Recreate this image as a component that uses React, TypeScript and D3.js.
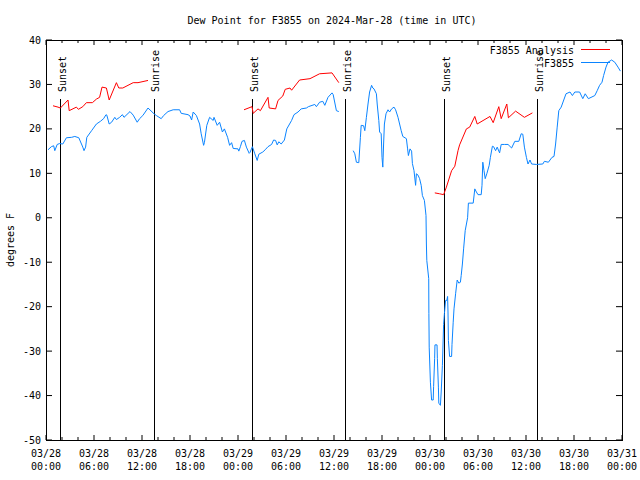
import React from "react";
import * as d3 from "d3";

const TITLE = "Dew Point for F3855 on 2024-Mar-28 (time in UTC)";
const Y_LABEL = "degrees F";
const Y_TICKS = [-50, -40, -30, -20, -10, 0, 10, 20, 30, 40];
const X_TICK_HOURS = [0, 6, 12, 18, 24, 30, 36, 42, 48, 54, 60, 66, 72];
const X_TICK_LABELS = [
  ["03/28", "00:00"], ["03/28", "06:00"], ["03/28", "12:00"], ["03/28", "18:00"],
  ["03/29", "00:00"], ["03/29", "06:00"], ["03/29", "12:00"], ["03/29", "18:00"],
  ["03/30", "00:00"], ["03/30", "06:00"], ["03/30", "12:00"], ["03/30", "18:00"],
  ["03/31", "00:00"],
];
const SUN_EVENTS: [number, string][] = [
  [1.75, "Sunset"], [13.45, "Sunrise"], [25.75, "Sunset"],
  [37.38, "Sunrise"], [49.75, "Sunset"], [61.38, "Sunrise"],
];

// hours since 03/28 00:00 UTC, value in deg F
const analysisSeg1: [number, number][] = [
  [0.875, 25.2], [1.5, 24.9], [1.8, 24.7], [2.75, 26.5], [2.9, 24.1], [3.8, 24.9], [4.05, 24.4],
  [4.6, 25.0], [5.05, 25.9], [5.8, 25.9], [6.3, 26.7], [6.7, 27.1], [7.0, 29.4], [7.55, 29.2],
  [7.9, 26.5], [8.8, 30.4], [9.1, 29.2], [9.6, 29.2], [10.9, 30.4], [11.5, 30.4], [12.75, 30.9],
];
const analysisSeg2: [number, number][] = [
  [24.75, 24.3], [25.75, 25.0], [25.9, 23.5], [26.5, 24.5], [26.8, 24.1], [27.75, 27.1], [27.9, 24.7],
  [28.7, 24.5], [29.0, 26.4], [29.6, 27.4], [29.9, 28.9], [30.5, 29.2], [30.7, 28.7], [31.7, 31.0],
  [33.0, 31.3], [34.2, 32.4], [35.75, 32.6], [36.6, 30.4],
];
const analysisSeg3: [number, number][] = [
  [48.6, 5.6], [49.2, 5.4], [49.7, 5.2], [50.05, 6.9], [50.7, 10.6], [51.1, 11.6], [51.5, 15.1],
  [51.7, 16.4], [52.55, 20.0], [52.96, 20.4], [53.6, 22.8], [53.9, 21.1], [55.5, 22.8], [55.9, 21.4],
  [56.6, 25.0], [56.9, 22.3], [57.6, 25.6], [57.8, 22.5], [58.7, 24.0], [59.8, 22.6], [60.8, 23.6],
];

const obsSeg1: [number, number][] = [
  [0.25, 15.3], [0.67, 16.0], [0.96, 16.2], [1.1, 15.1], [1.4, 16.5], [1.7, 16.7], [2.1, 16.6],
  [2.55, 18.0], [3.2, 18.1], [3.6, 18.3], [4.1, 18.0], [4.6, 15.9], [4.75, 15.1], [4.95, 15.9],
  [5.1, 18.1], [5.7, 19.6], [6.3, 21.1], [6.8, 21.7], [7.2, 22.3], [7.5, 23.2], [7.6, 23.1],
  [7.9, 21.1], [8.2, 21.5], [8.6, 22.6], [8.8, 22.1], [9.2, 22.6], [9.55, 23.2], [9.75, 22.6],
  [10.5, 23.9], [10.9, 23.1], [11.4, 21.5], [11.7, 22.3], [12.1, 23.0], [12.75, 24.7], [13.5, 23.4],
  [13.8, 23.0], [14.4, 22.3], [14.7, 23.0], [15.25, 23.9], [15.9, 24.3], [16.7, 24.3], [16.9, 23.5],
  [17.75, 23.2], [18.0, 22.9], [18.2, 22.0], [18.4, 23.8], [18.8, 23.0], [19.2, 21.1], [19.4, 18.9],
  [19.7, 16.3], [19.8, 16.9], [20.1, 20.8], [20.45, 22.6], [20.9, 21.9], [21.0, 22.6], [21.4, 20.8],
  [21.7, 21.5], [22.05, 19.3], [22.3, 20.0], [22.7, 18.1], [22.95, 16.3], [23.2, 16.9], [23.4, 15.6],
  [24.0, 15.5], [24.1, 15.0], [24.3, 16.0], [24.5, 17.2], [24.8, 17.4], [25.05, 15.9], [25.4, 14.5],
  [25.5, 14.7], [25.8, 16.0], [26.1, 14.4], [26.4, 12.9], [26.6, 14.3], [27.1, 14.8], [27.4, 15.3],
  [27.75, 16.0], [28.2, 16.5], [28.45, 17.5], [28.7, 17.4], [28.9, 16.4], [29.1, 17.1], [29.4, 16.6],
  [29.8, 17.5], [30.1, 20.0], [30.7, 21.9], [31.0, 23.2], [31.5, 23.8], [31.9, 24.5], [32.55, 24.7],
  [32.8, 25.0], [33.6, 25.5], [33.8, 25.0], [34.2, 26.0], [34.6, 26.2], [34.85, 25.3], [35.25, 27.1],
  [35.75, 28.1], [35.9, 27.7], [36.3, 24.1], [36.6, 23.9],
];
const obsSeg2: [number, number][] = [
  [38.4, 15.1], [38.6, 14.4], [38.8, 12.5], [39.1, 12.4], [39.3, 18.1], [39.4, 20.8], [39.7, 20.7],
  [39.85, 19.6], [40.05, 22.6], [40.25, 25.6], [40.45, 28.3], [40.7, 29.8], [40.85, 29.2], [41.0, 29.0],
  [41.3, 27.9], [41.4, 25.6], [41.6, 21.9], [41.7, 19.3], [41.9, 18.9], [42.0, 13.6], [42.1, 11.4],
  [42.2, 16.6], [42.3, 21.1], [42.5, 23.4], [42.75, 24.3], [42.95, 23.8], [43.2, 24.5], [43.5, 24.9],
  [43.7, 24.3], [44.0, 22.6], [44.2, 21.1], [44.4, 19.6], [44.6, 18.3], [45.05, 17.8], [45.2, 15.5],
  [45.3, 14.0], [45.5, 15.5], [45.7, 15.0], [45.8, 12.2], [46.0, 10.6], [46.2, 7.3], [46.3, 9.9],
  [46.5, 9.6], [46.7, 8.8], [46.9, 7.3], [47.05, 5.0], [47.3, 3.9], [47.5, 0.5], [47.55, -5.9],
  [47.6, -9.6], [47.84, -13.7], [47.86, -21.5], [47.9, -29.1], [48.05, -37.0], [48.2, -41.0],
  [48.4, -41.0], [48.45, -38.0], [48.58, -31.7], [48.62, -28.6], [48.88, -28.6], [48.92, -31.7],
  [49.05, -38.1], [49.1, -41.7], [49.3, -42.2], [49.4, -39.2], [49.55, -33.2], [49.7, -24.0],
  [49.8, -21.6], [49.95, -18.6], [50.1, -18.6], [50.2, -17.7], [50.25, -21.2], [50.3, -27.6],
  [50.45, -31.2], [50.7, -31.2], [50.75, -28.5], [50.9, -23.5], [51.0, -20.5], [51.2, -17.1],
  [51.4, -14.0], [51.6, -14.7], [51.8, -14.5], [51.9, -13.0], [52.05, -10.4], [52.2, -7.0],
  [52.4, -2.9], [52.7, 0.0], [52.8, 3.3], [53.4, 3.3], [53.6, 6.5], [53.8, 5.8], [54.0, 5.2],
  [54.4, 5.2], [54.5, 7.3], [54.6, 12.5], [54.75, 10.6], [54.9, 8.8], [55.1, 9.9], [55.4, 11.8],
  [55.55, 13.6], [55.8, 16.1], [55.95, 16.0], [56.2, 15.1], [56.4, 15.9], [56.7, 14.6], [56.9, 16.5],
  [57.3, 16.5], [57.75, 16.5], [58.2, 15.7], [58.6, 17.2], [59.1, 17.2], [59.4, 18.9], [59.6, 18.8],
  [59.8, 15.9], [60.05, 13.6], [60.25, 12.1], [60.5, 13.0], [60.7, 12.1], [61.3, 12.0], [62.1, 12.1],
  [62.3, 12.7], [62.8, 12.5], [63.25, 13.6], [63.5, 13.8], [63.7, 16.6], [63.9, 20.4], [64.1, 24.1],
  [64.4, 24.9], [65.0, 27.9], [65.5, 28.3], [65.8, 27.5], [66.1, 28.3], [66.7, 28.3], [67.1, 26.8],
  [67.4, 27.9], [67.8, 26.8], [68.6, 27.5], [68.9, 28.6], [69.2, 29.8], [69.5, 30.5], [69.7, 32.0],
  [70.0, 33.9], [70.25, 35.0], [70.7, 35.5], [71.1, 35.0], [71.5, 33.9], [71.8, 33.0],
];

const ANALYSIS_SEGMENTS = [analysisSeg1, analysisSeg2, analysisSeg3];
const OBS_SEGMENTS = [obsSeg1, obsSeg2];
const LEGEND = ["F3855 Analysis", "F3855"];

const W = 640, H = 480;
const M = { left: 46, right: 18, top: 40, bottom: 40 };
const RED = "#ff0000";
const BLUE = "#0a84ff";
const FONT = "'DejaVu Sans Mono', monospace";

export default function App() {
  const x = d3.scaleLinear().domain([0, 72]).range([M.left, W - M.right]);
  const y = d3.scaleLinear().domain([-50, 40]).range([H - M.bottom, M.top]);
  const line = d3.line<[number, number]>().x((d) => x(d[0])).y((d) => y(d[1]));
  const minor = d3.range(0, 73, 2).filter((h) => h % 6 !== 0);
  const top = M.top, bottom = H - M.bottom, left = M.left, right = W - M.right;

  return (
    <svg width={W} height={H} style={{ position: "absolute", left: 0, top: 0, background: "#fff" }}
      fontFamily={FONT} fontSize={10}>
      <rect x={0} y={0} width={W} height={H} fill="#fff" />
      <text x={332} y={23.5} textAnchor="middle">{TITLE}</text>
      <text transform={`translate(14,240) rotate(-90)`} textAnchor="middle">{Y_LABEL}</text>

      {/* y ticks */}
      {Y_TICKS.map((v) => (
        <g key={"y" + v}>
          <line x1={left} x2={left + 6} y1={y(v)} y2={y(v)} stroke="#000" />
          <line x1={right - 6} x2={right} y1={y(v)} y2={y(v)} stroke="#000" />
          <text x={41} y={y(v) + 3.5} textAnchor="end">{v}</text>
        </g>
      ))}
      {/* x ticks */}
      {X_TICK_HOURS.map((h, i) => (
        <g key={"x" + h}>
          <line x1={x(h)} x2={x(h)} y1={bottom} y2={bottom - 5} stroke="#000" />
          <line x1={x(h)} x2={x(h)} y1={top} y2={top + 5} stroke="#000" />
          <text x={x(h)} y={457} textAnchor="middle">{X_TICK_LABELS[i][0]}</text>
          <text x={x(h)} y={470} textAnchor="middle">{X_TICK_LABELS[i][1]}</text>
        </g>
      ))}
      {minor.map((h) => (
        <g key={"m" + h}>
          <line x1={x(h)} x2={x(h)} y1={bottom} y2={bottom - 3} stroke="#000" />
          <line x1={x(h)} x2={x(h)} y1={top} y2={top + 3} stroke="#000" />
        </g>
      ))}

      {/* sun lines */}
      {SUN_EVENTS.map(([h, label], i) => (
        <g key={"s" + i}>
          <line x1={Math.round(x(h)) + 0.5} x2={Math.round(x(h)) + 0.5} y1={bottom} y2={top + 59} stroke="#000" />
          <text transform={`translate(${x(h) + 5.5},${top + 52}) rotate(-90)`} textAnchor="start">{label}</text>
        </g>
      ))}

      {/* data */}
      <g fill="none" strokeWidth={1}>
        {ANALYSIS_SEGMENTS.map((s, i) => (
          <path key={"a" + i} d={line(s) || ""} stroke={RED} />
        ))}
        {OBS_SEGMENTS.map((s, i) => (
          <path key={"o" + i} d={line(s) || ""} stroke={BLUE} />
        ))}
      </g>

      {/* legend */}
      <text x={574} y={53.5} textAnchor="end">{LEGEND[0]}</text>
      <line x1={581} x2={610} y1={49.5} y2={49.5} stroke={RED} />
      <text x={574} y={66.5} textAnchor="end">{LEGEND[1]}</text>
      <line x1={581} x2={610} y1={62.5} y2={62.5} stroke={BLUE} />

      <rect x={left + 0.5} y={top + 0.5} width={right - left} height={bottom - top} fill="none" stroke="#000" />
    </svg>
  );
}
